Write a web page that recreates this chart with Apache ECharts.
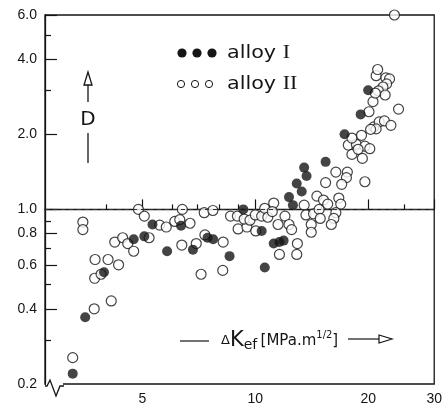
<!DOCTYPE html>
<html>
<head>
<meta charset="utf-8">
<script src="https://cdn.jsdelivr.net/npm/echarts@6/dist/echarts.min.js"></script>
<style>
  html, body { margin: 0; padding: 0; background: #fff; }
  #chart { width: 445px; height: 406px; }
</style>
</head>
<body>
<div id="chart"></div>
<script>
// ---- data ----
const alloy1K = [3.26, 3.52, 3.95, 4.74, 5.06, 5.32, 5.82, 6.34, 6.82, 7.46, 7.72, 8.54, 9.29, 10.4, 10.6, 11.2, 11.6, 11.9, 12.3, 12.6, 12.9, 13.3, 13.5, 13.7, 15.4, 17.3, 19.1, 20.0];
const alloy1D = [0.22, 0.37, 0.56, 0.76, 0.78, 0.87, 0.68, 0.86, 0.69, 0.77, 0.76, 0.65, 1.0, 0.82, 0.585, 0.73, 0.74, 0.75, 1.12, 1.04, 1.27, 1.18, 1.47, 1.36, 1.55, 2.0, 2.4, 3.0];

const alloy2K = [3.26, 3.47, 3.47, 3.72, 4.13, 3.73, 3.88, 3.74, 4.05, 4.32, 4.22, 4.43, 4.57, 4.74, 4.88, 5.06, 5.21, 5.56, 5.79, 6.1, 6.29, 6.7, 6.39, 6.37, 6.96, 7.31, 7.71, 7.34, 8.21, 7.17, 8.19, 8.59, 8.96, 9.0, 9.5, 9.34, 9.68, 10.0, 10.03, 10.4, 10.6, 10.8, 11.2, 11.1, 11.5, 12.0, 12.3, 12.5, 11.6, 12.9, 12.95, 13.5, 13.65, 14.3, 14.8, 14.9, 14.1, 14.1, 14.6, 15.2, 15.6, 16.7, 16.9, 16.4, 16.2, 15.95, 15.4, 16.4, 17.6, 17.5, 17.0, 19.6, 18.1, 19.3, 17.7, 18.6, 19.6, 18.8, 20.2, 18.1, 19.2, 20.7, 21.4, 22.1, 23.0, 21.0, 20.3, 24.1, 20.6, 20.1, 21.0, 21.2, 22.3, 22.8, 22.4, 21.9, 21.3, 22.2, 20.9, 23.5];
const alloy2D = [0.255, 0.89, 0.83, 0.40, 0.43, 0.53, 0.55, 0.63, 0.63, 0.60, 0.74, 0.77, 0.73, 0.68, 1.0, 0.94, 0.77, 0.865, 0.85, 0.895, 0.91, 0.88, 1.0, 0.72, 0.73, 0.97, 0.99, 0.79, 0.74, 0.55, 0.57, 0.94, 0.94, 0.835, 0.85, 0.915, 0.905, 0.95, 0.82, 0.94, 1.01, 0.93, 1.06, 0.98, 0.87, 0.94, 0.87, 0.83, 0.66, 0.66, 0.73, 1.04, 0.95, 0.96, 1.0, 0.92, 0.87, 0.81, 1.13, 1.09, 1.05, 1.11, 1.05, 0.97, 0.92, 0.87, 1.28, 1.41, 1.41, 1.34, 1.26, 1.29, 1.66, 1.60, 1.81, 1.82, 1.79, 1.74, 1.75, 1.93, 1.98, 2.14, 2.24, 2.26, 2.17, 2.10, 2.09, 2.52, 2.70, 2.46, 3.43, 3.63, 3.36, 3.33, 3.18, 3.09, 2.98, 2.87, 2.92, 6.0];

const xLabelTicks = [5, 10, 20, 30];
const xMinorTicks = [4, 6, 7, 8, 9, 15, 25];
const yLabelTicks = [0.2, 0.4, 0.6, 0.8, 1.0, 2.0, 4.0, 6.0];
const yMinorTicks = [0.3, 0.5, 0.7, 0.9, 3, 5];
const referenceD = 1.0;

const X_MIN = 2.75, X_MAX = 30, Y_MIN = 0.2, Y_MAX = 6.0;
const ink = '#151515';
const lg = Math.log10;
const chart = echarts.init(document.getElementById('chart'), null, { renderer: 'canvas' });

// both axes are logarithmic: values are placed on linear axes in log10 space
const xBase = { type: 'value', min: lg(X_MIN), max: lg(X_MAX), gridIndex: 0, position: 'bottom', splitLine: { show: false } };
const yBase = { type: 'value', min: lg(Y_MIN), max: lg(Y_MAX), gridIndex: 0, position: 'left', splitLine: { show: false } };

const option = {
  animation: false,
  backgroundColor: '#fff',
  grid: { left: 45, right: 9, top: 15, bottom: 20, show: true, borderColor: ink, borderWidth: 1.3, backgroundColor: 'transparent' },
  xAxis: [
    Object.assign({}, xBase, {
      axisLine: { show: true, lineStyle: { color: ink, width: 1.3 } },
      axisTick: { show: true, inside: true, length: 10, customValues: xLabelTicks.map(lg), lineStyle: { color: ink, width: 1.2 } },
      axisLabel: { show: true, customValues: xLabelTicks.map(lg), margin: 8, color: ink, fontSize: 14, fontFamily: 'Liberation Sans',
        formatter: v => String(Math.round(Math.pow(10, v))) }
    }),
    Object.assign({}, xBase, {
      axisLine: { show: false },
      axisTick: { show: true, inside: true, length: 5, customValues: xMinorTicks.map(lg), lineStyle: { color: ink, width: 1.2 } },
      axisLabel: { show: false }
    })
  ],
  yAxis: [
    Object.assign({}, yBase, {
      axisLine: { show: true, lineStyle: { color: ink, width: 1.3 } },
      axisTick: { show: true, inside: true, length: 12, customValues: yLabelTicks.map(lg), lineStyle: { color: ink, width: 1.2 } },
      axisLabel: { show: true, customValues: yLabelTicks.map(lg), margin: 8, color: ink, fontSize: 14, fontFamily: 'Liberation Sans',
        formatter: v => (Math.round(Math.pow(10, v) * 10) / 10).toFixed(1) }
    }),
    Object.assign({}, yBase, {
      axisLine: { show: false },
      axisTick: { show: true, inside: true, length: 6, customValues: yMinorTicks.map(lg), lineStyle: { color: ink, width: 1.2 } },
      axisLabel: { show: false }
    })
  ],
  series: [
    {
      name: 'alloy II', type: 'scatter', xAxisIndex: 0, yAxisIndex: 0, clip: false, z: 2,
      symbol: 'circle', symbolSize: 10,
      itemStyle: { color: '#fff', borderColor: ink, borderWidth: 1.2 },
      data: alloy2K.map((k, i) => [lg(k), lg(alloy2D[i])]),
      markLine: {
        silent: true, symbol: ['none', 'none'], label: { show: false },
        lineStyle: { type: [4, 4], color: '#333', width: 1 },
        data: [{ yAxis: lg(referenceD) }]
      }
    },
    {
      name: 'alloy I', type: 'scatter', xAxisIndex: 0, yAxisIndex: 0, clip: false, z: 3,
      symbol: 'circle', symbolSize: 10,
      itemStyle: { color: ink },
      data: alloy1K.map((k, i) => [lg(k), lg(alloy1D[i])])
    }
  ],
  graphic: [
    // axis break at the origin
    { type: 'rect', z: 100, shape: { x: 46, y: 383, width: 17, height: 6 }, style: { fill: '#fff' } },
    { type: 'polyline', z: 101, shape: { points: [[45, 386], [47, 386], [50, 380], [56, 396], [60, 386], [64, 386]] },
      style: { stroke: ink, lineWidth: 1.3, fill: null } },
    // y-axis name "D" with arrow
    { type: 'line', z: 100, shape: { x1: 88, y1: 84, x2: 88, y2: 102 }, style: { stroke: ink, lineWidth: 1.3 } },
    { type: 'polygon', z: 100, shape: { points: [[88, 72], [84, 85], [92, 85]] }, style: { fill: '#fff', stroke: ink, lineWidth: 1.3 } },
    { type: 'text', z: 100, x: 88, y: 120, style: { text: 'D', fill: ink, font: '20px "DejaVu Sans"', align: 'center', verticalAlign: 'middle' } },
    { type: 'line', z: 100, shape: { x1: 88, y1: 133, x2: 88, y2: 163 }, style: { stroke: ink, lineWidth: 1.3 } },
    // x-axis name with arrow
    { type: 'line', z: 100, shape: { x1: 180, y1: 341, x2: 209, y2: 341 }, style: { stroke: ink, lineWidth: 1.2 } },
    { type: 'text', z: 100, x: 221, y: 341, style: {
        text: '{d|Δ}{k|K}{s|ef} {u|[MPa.m}{p|1/2}{u|]}',
        align: 'left', verticalAlign: 'middle', fill: ink,
        rich: {
          d: { fontSize: 13, fontFamily: 'DejaVu Sans', lineHeight: 22, verticalAlign: 'middle', fill: ink },
          k: { fontSize: 21, fontFamily: 'DejaVu Sans', lineHeight: 22, verticalAlign: 'middle', fill: ink },
          s: { fontSize: 14, fontFamily: 'DejaVu Sans', lineHeight: 13, verticalAlign: 'bottom', fill: ink },
          u: { fontSize: 15, fontFamily: 'DejaVu Sans', lineHeight: 22, verticalAlign: 'middle', fill: ink },
          p: { fontSize: 10, fontFamily: 'DejaVu Sans', lineHeight: 12, verticalAlign: 'top', fill: ink }
        }
      } },
    { type: 'line', z: 100, shape: { x1: 348, y1: 339, x2: 379, y2: 339 }, style: { stroke: ink, lineWidth: 1.2 } },
    { type: 'polygon', z: 100, shape: { points: [[379, 335], [392, 339], [379, 343]] }, style: { fill: '#fff', stroke: ink, lineWidth: 1.2 } },
    // legend
    { type: 'circle', z: 100, shape: { cx: 182, cy: 53, r: 4.6 }, style: { fill: ink } },
    { type: 'circle', z: 100, shape: { cx: 197, cy: 53, r: 4.6 }, style: { fill: ink } },
    { type: 'circle', z: 100, shape: { cx: 212, cy: 53, r: 4.6 }, style: { fill: ink } },
    { type: 'text', z: 100, x: 227, y: 53, scaleX: 1.15, style: {
        text: '{a|alloy }{n|I}', align: 'left', verticalAlign: 'middle',
        rich: { a: { fontSize: 18, fontFamily: 'DejaVu Sans', fill: ink }, n: { fontSize: 19, fontFamily: 'Liberation Serif', fill: ink } } } },
    { type: 'circle', z: 100, shape: { cx: 181, cy: 84, r: 3.6 }, style: { fill: '#fff', stroke: ink, lineWidth: 1 } },
    { type: 'circle', z: 100, shape: { cx: 195, cy: 84, r: 3.6 }, style: { fill: '#fff', stroke: ink, lineWidth: 1 } },
    { type: 'circle', z: 100, shape: { cx: 209, cy: 84, r: 3.6 }, style: { fill: '#fff', stroke: ink, lineWidth: 1 } },
    { type: 'text', z: 100, x: 227, y: 84, scaleX: 1.15, style: {
        text: '{a|alloy }{n|II}', align: 'left', verticalAlign: 'middle',
        rich: { a: { fontSize: 18, fontFamily: 'DejaVu Sans', fill: ink }, n: { fontSize: 19, fontFamily: 'Liberation Serif', fill: ink } } } }
  ]
};
chart.setOption(option);
</script>
</body>
</html>
